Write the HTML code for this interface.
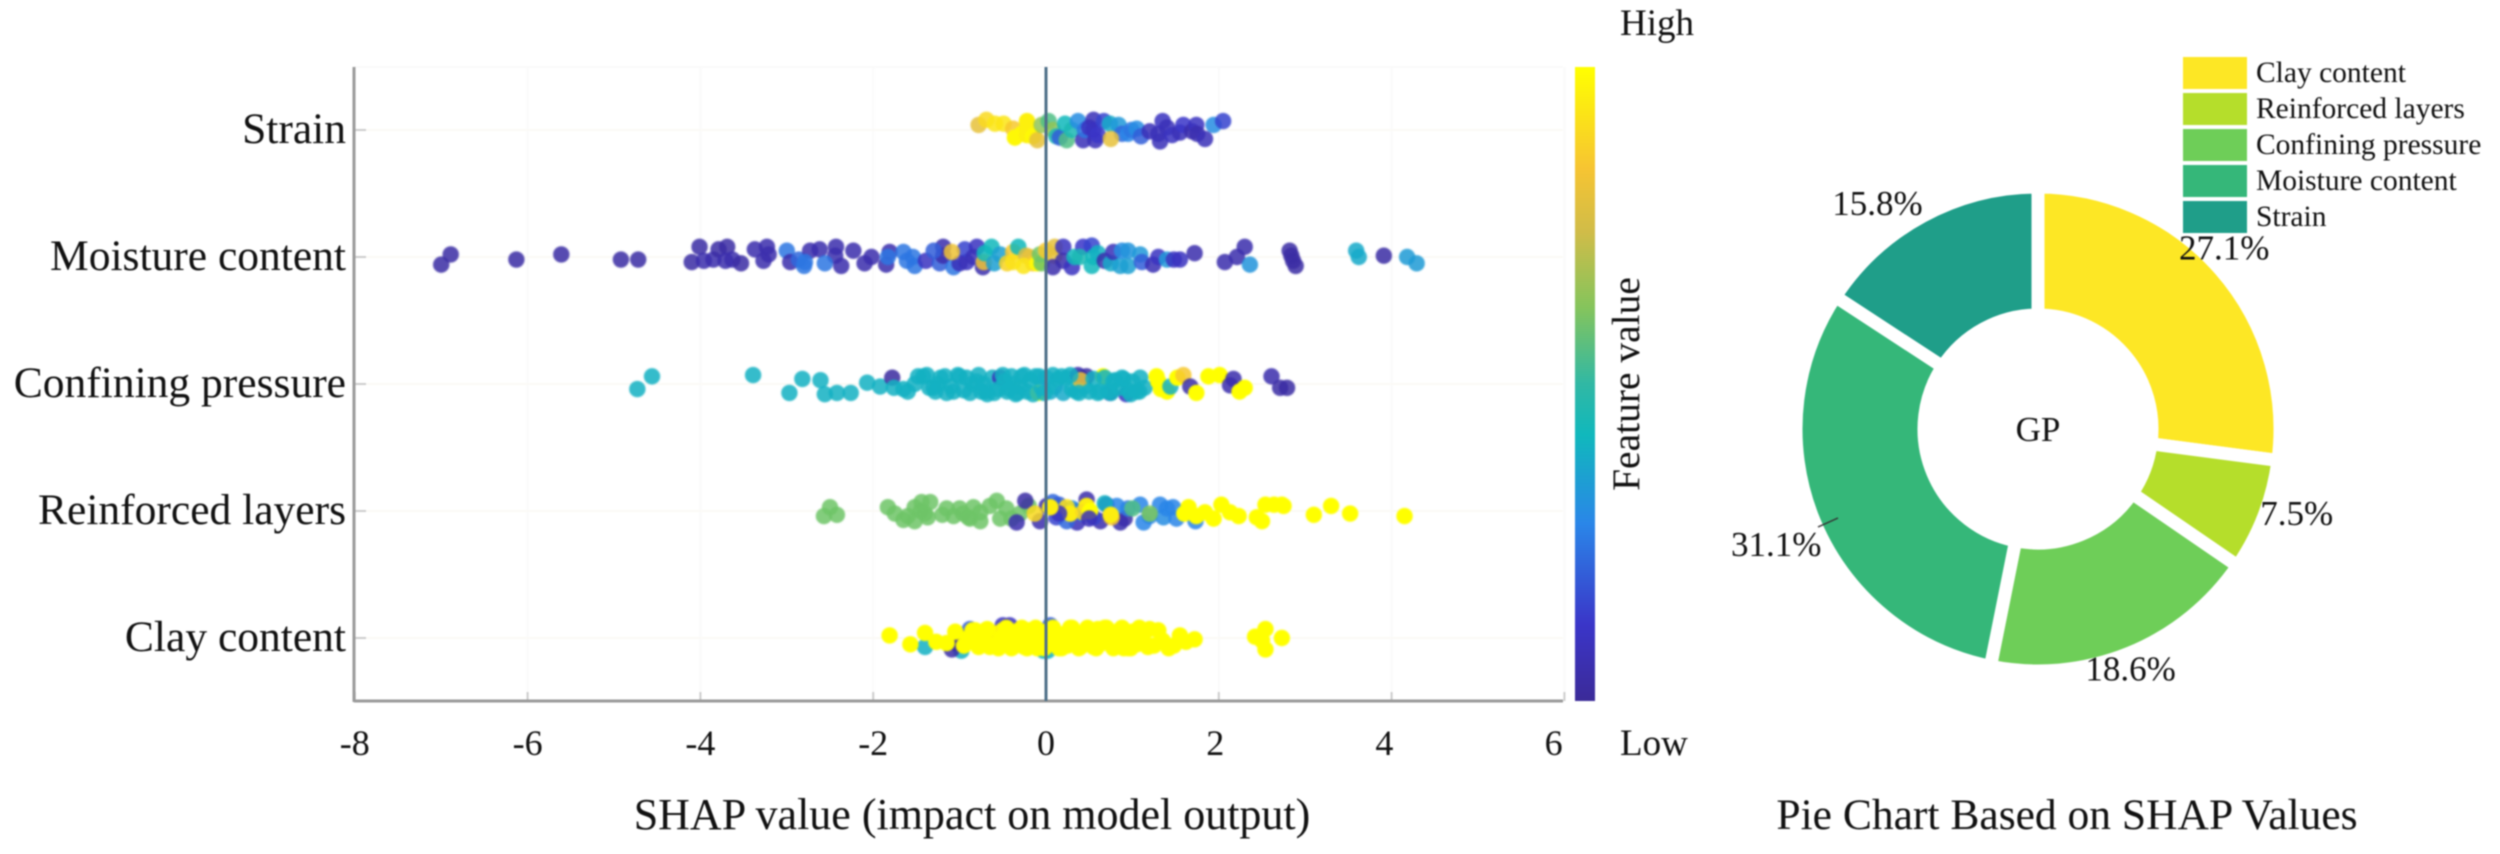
<!DOCTYPE html>
<html lang="en">
<head>
<meta charset="utf-8">
<title>SHAP summary and pie chart</title>
<style>
html,body{margin:0;padding:0;background:#fff;}
svg{display:block;}
text{font-family:"Liberation Serif",serif;fill:#111;}
#blur-layer{filter:blur(0.7px);}
#dots{filter:blur(0.9px);}
</style>
</head>
<body>
<svg id="chart" xmlns="http://www.w3.org/2000/svg" width="2500" height="854" viewBox="0 0 2500 854">
<defs>
<linearGradient id="cbar" x1="0" y1="1" x2="0" y2="0">
<stop offset="0" stop-color="#3b2a98"/>
<stop offset="0.12" stop-color="#3a35c8"/>
<stop offset="0.28" stop-color="#2a86e8"/>
<stop offset="0.42" stop-color="#10b8bc"/>
<stop offset="0.5" stop-color="#30b8a4"/>
<stop offset="0.62" stop-color="#84c45c"/>
<stop offset="0.74" stop-color="#d0bc48"/>
<stop offset="0.84" stop-color="#f6c432"/>
<stop offset="1" stop-color="#ffff00"/>
</linearGradient>
</defs>
<g id="blur-layer">
<g id="grid"></g>
<g id="dots"></g>
<g id="axes"></g>
<rect x="1575" y="67" width="20" height="634" fill="url(#cbar)"/>
<text x="1620" y="35" font-size="37">High</text>
<text x="1620" y="755" font-size="37">Low</text>
<text x="0" y="0" font-size="39.5" text-anchor="middle" transform="translate(1639,384) rotate(-90)">Feature value</text>
<text x="972" y="829" font-size="44" text-anchor="middle">SHAP value (impact on model output)</text>
<g id="pie"></g>
<text x="2038" y="441" font-size="35" text-anchor="middle">GP</text>
<line x1="1818" y1="527" x2="1838" y2="518" stroke="#333" stroke-width="1.5"/>
<g id="legend"></g>
<text x="2067" y="829" font-size="43.5" text-anchor="middle">Pie Chart Based on SHAP Values</text>
</g>
</svg>
<script>
const categories = ["Strain","Moisture content","Confining pressure","Reinforced layers","Clay content"];
const xTicks = [-8,-6,-4,-2,0,2,4,6];

const strainShap = [-.78,-.69,-.59,-.49,-.38,-.36,-.28,-.22,-.22,-.22,-.15,-.10,-.05,.03,.08,.12,.16,.24,.22,.30,.37,.43,.45,.5,.55,.55,.57,.6,.67,.74,.84,.88,.95,.99,1.05,1.1,1.20,1.30,1.32,1.35,1.4,1.46,1.55,1.59,1.69,1.74,1.75,1.84,1.94,2.05,.75];
const strainJitter = [-4,-8,-5,-5,-1,6,3,-7,-1,4,5,8,-4,-7,0,5,6,8,-5,0,-7,8,0,-2,-8,0,8,4,-7,-5,-4,3,3,0,-1,5,1,3,9,-7,-2,4,2,-4,1,-4,3,7,-4,-7,7];
const strainFeature = [.8,.9,.93,.93,.85,.98,.98,.96,.96,.96,.98,.8,.65,.55,.65,.45,.2,.55,.42,.45,.3,.08,.25,.1,.08,.1,.08,.12,.15,.38,.33,.22,.28,.25,.3,.2,.08,.08,.08,.1,.08,.1,.08,.12,.05,.1,.06,.08,.3,.15,.8];

const moistureShap = [-6.89,-7.0,-6.13,-5.61,-4.92,-4.72,-4.10,-4.01,-3.96,-3.85,-3.79,-3.69,-3.71,-3.63,-3.53,-3.37,-3.23,-3.21,-3.27,-3.0,-2.96,-2.86,-2.80,-2.73,-2.79,-2.62,-2.43,-2.44,-2.37,-2.23,-2.56,-2.10,-2.02,-1.85,-1.81,-1.83,-1.65,-1.61,-1.52,-1.54,-1.39,-1.23,-1.19,-1.19,-1.07,-.92,-.94,-.80,-.84,-.73,-1.3,-1.0,-1.09,-.72,-.71,-.63,-.6,-.53,-.45,-.38,-.38,-.32,-.23,-.19,-.15,-.26,-.1,-.07,-.05,0,.10,.10,.08,.2,.2,.3,.33,.43,.39,.53,.53,.55,.6,.68,.75,.78,.86,.88,.95,.95,1.09,1.11,1.24,1.3,1.40,1.48,1.72,1.55,2.07,2.21,2.30,2.36,2.82,2.84,2.86,2.89,3.59,3.62,3.91,4.18,4.29];
const moistureJitter = [-2,6,2,-2,2,2,4,-8,3,2,-6,-8,3,2,5,-6,-8,-2,3,-5,4,2,7,-5,4,-6,-8,-1,7,-5,5,5,0,6,-4,0,-4,3,7,0,3,5,-8,-1,8,4,-6,-8,0,8,-5,5,-4,4,-3,-8,5,-2,5,-4,4,-8,-1,0,5,7,5,-2,5,-5,-8,-1,8,-8,3,8,0,-8,0,7,-9,0,-3,3,5,-4,7,-5,7,-5,-2,4,6,0,2,2,-3,2,4,0,-8,6,-5,-1,3,7,-5,0,-1,0,5];
const moistureFeature = [.03,.03,.03,.03,.03,.03,.03,.03,.05,.05,.03,.03,.05,.05,.03,.05,.05,.05,.05,.25,.05,.22,.25,.05,.25,.05,.05,.05,.05,.05,.25,.05,.05,.05,.05,.25,.25,.25,.25,.25,.1,.2,.05,.05,.25,.1,.15,.1,.08,.05,.2,.08,.82,.82,.42,.42,.35,.35,.88,.85,.92,.42,.75,.8,.85,.93,.98,.6,.6,.85,.8,.8,.05,.1,.05,.1,.42,.12,.45,.42,.15,.42,.4,.05,.38,.08,.35,.3,.35,.32,.33,.2,.07,.1,.33,.1,.05,.1,.05,.05,.05,.32,.03,.03,.03,.03,.38,.38,.03,.34,.34];

const confiningShap = [-4.56,-4.73,-3.39,-2.82,-2.97,-2.61,-2.56,-2.42,-2.26,-2.07,-1.92,-1.78,-1.76,-1.65,-1.52,-1.42,-1.35,-1.30,-1.22,-1.17,-1.10,-1.07,-1.0,-.92,-.85,-.80,-.75,-.68,-.62,-.53,-.55,-.48,-.45,-.40,-.35,-.30,-.28,-.22,-.18,-.12,-.09,-.05,0,.05,.1,.14,.2,.24,.3,.35,.4,.45,.37,.47,.4,.66,.74,.93,.55,.6,.68,.72,.8,.85,.9,.95,1.0,1.05,1.09,1.14,1.28,1.33,1.4,1.3,1.44,1.52,1.59,1.67,1.74,1.88,2.01,2.17,2.13,2.30,2.24,2.61,2.71,2.79,.5,.78,-1.6,-1.48,-1.38,-1.28,-1.15,-1.02,-.95,-.88,-.78,-.7,-.6,-.5,-.42,-.33,-.25,-.15,-.08,-.02,.08,.18,.28,.38,.62,.75,.88,.98,1.08,-1.25,-.72,-.38];
const confiningJitter = [-6,4,-7,-4,7,-3,8,7,7,-1,2,-5,3,4,0,-6,3,3,-5,-6,2,6,-6,-5,0,-2,6,8,-5,-5,4,-2,6,-6,8,2,-6,6,-3,-6,7,3,-5,6,2,-4,7,-5,4,6,-5,2,-7,-6,-3,-6,7,8,-4,7,-5,6,-3,3,-4,5,-2,6,-5,3,-6,4,6,-2,2,-5,-7,2,7,-6,-7,-4,1,3,6,-6,3,3,6,-2,6,-6,-7,6,7,-7,5,7,-7,6,7,-7,4,7,-7,8,-6,7,-7,-6,-7,7,6,7,-5,8,6,0,0,0];
const confiningFeature = [.4,.4,.4,.4,.4,.4,.4,.4,.4,.4,.4,.02,.4,.4,.4,.4,.4,.4,.4,.4,.4,.4,.4,.4,.4,.4,.4,.4,.4,.08,.4,.4,.4,.4,.4,.4,.4,.4,.4,.4,1,.4,.36,.38,.4,.4,.38,.4,.4,.4,.4,.4,.05,.03,.8,1,.08,.1,.4,.4,.4,.4,.4,.4,.4,.4,.4,.4,.4,.4,1,1,1,1,.4,1,.85,.04,1,1,1,.05,.05,1,1,.05,.03,.03,.4,.4,.4,.4,.4,.4,.4,.4,.4,.4,.4,.4,.4,.4,.4,.4,.4,.4,.4,.4,.4,.4,.4,.4,.4,.4,.4,.4,.4,.4,.4,.4];

const reinforcedShap = [-2.57,-2.50,-2.42,-1.83,-1.75,-1.65,-1.52,-1.52,-1.44,-1.40,-1.34,-1.37,-1.15,-1.07,-.96,-.84,-.88,-.76,-.76,-.57,-.53,-.46,-.30,-1.6,-1.45,-1.2,-1.0,-.9,-.65,-.4,-.2,-.24,-.34,-.07,.01,.12,.36,.47,.63,.91,.86,.35,.7,.95,.08,.24,.55,.82,1.09,1.13,1.2,1.32,1.36,1.4,1.47,1.51,1.73,.3,.15,.42,.68,-.13,.24,.28,.47,.43,.51,.76,1.2,1.0,.15,.5,.05,.75,1.6,1.65,1.74,1.84,1.94,2.03,2.13,2.23,2.44,2.50,2.54,2.64,2.73,2.75,3.1,3.3,3.52,4.15];
const reinforcedJitter = [4,-3,3,-3,2,7,8,-3,-7,2,-7,5,-2,4,2,-3,6,8,1,-8,6,-2,2,4,0,3,-2,5,-4,6,-4,-8,9,8,-4,5,9,-9,8,6,9,0,-5,-2,-7,8,5,-4,-5,9,4,-5,5,-2,-3,6,8,-2,-5,2,-6,2,-3,2,-4,1,0,5,2,-2,2,6,-3,3,2,-3,4,1,6,-5,1,4,5,8,-5,-5,-5,-4,3,-4,2,4];
const reinforcedFeature = [.6,.6,.6,.6,.6,.6,.6,.6,.6,.6,.6,.6,.6,.6,.6,.6,.6,.6,.6,.6,.6,.6,.6,.6,.6,.6,.6,.6,.6,.6,.6,.03,.05,.05,.05,.15,.08,.05,.05,.03,.05,.05,.12,.25,.22,.22,.15,.28,.28,.28,.28,.28,.3,.28,.28,.28,.28,.3,.2,.25,.4,.9,.92,.95,.95,.9,1,.84,.62,.55,.1,.08,.95,.95,1,1,1,1,1,1,1,1,1,1,1,1,1,1,1,1,1,1];

const clayShap = [-1.40,-.98,-.5,-.42,-.03,.05,.02,-1.02,-1.05,-1.09,-.88,-1.81,-1.57,-1.40,-1.27,-1.15,-1.05,-.82,-.76,-.7,-.65,-.6,-.55,-.5,-.45,-.4,-.35,-.3,-.25,-.2,-.15,-.1,-.05,0,.05,.1,.15,.2,.25,.3,.35,.4,.45,.5,.55,.6,.65,.7,.75,.8,.85,.9,.95,1.0,1.05,1.12,1.2,1.25,1.35,1.42,1.55,1.62,1.72,2.42,2.54,2.50,2.54,2.73,-.72,-.62,-.48,-.32,-.18,-.08,.12,.28,-.95,-.85,-.78,-.68,-.58,-.46,-.38,-.28,-.22,-.12,-.02,.08,.18,.28,.38,.48,.58,.68,.78,.88,.98,1.08,1.18,1.3,1.48,-.9,-.72,-.52,-.33,-.16,.03,.22,.42,.62,.82,1.02,.7,.9,.5,.3];
const clayJitter = [7,10,-10,-10,10,-10,10,-2,4,9,-7,-2,5,-4,3,4,-5,-6,3,-6,7,-1,8,-6,3,8,-5,1,7,-6,2,8,-5,4,-6,1,8,-3,6,-6,3,7,-4,2,7,-7,4,-7,1,7,-6,3,8,-5,5,0,-7,6,2,8,-2,3,1,-1,-7,2,9,0,2,-4,5,-2,6,-4,3,-5,6,-6,7,-7,6,-8,7,-8,8,-8,8,-8,8,-8,8,-8,8,-8,8,-8,8,-8,7,-6,6,0,0,0,0,0,0,0,0,0,0,0,-8,8,0,-8];
const clayFeature = [.4,.4,.1,.1,.4,.2,.4,.04,.04,.04,.2,1,1,1,1,1,1,1,1,1,1,1,1,1,1,1,1,1,1,1,1,1,1,1,1,1,1,1,1,1,1,1,1,1,1,1,1,1,1,1,1,1,1,1,1,1,1,1,1,1,1,1,1,1,1,1,1,1,1,.97,1,.95,1,1,1,1,1,1,1,1,1,1,1,1,1,1,1,1,1,1,1,1,1,1,1,1,1,1,1,1,1,1,1,1,1,1,1,1,1,1,1,1,1,1,1,1];

const pieLabels = ["Clay content","Reinforced layers","Confining pressure","Moisture content","Strain"];
const pieValues = [27.1,7.5,18.6,31.1,15.8];

const NS = "http://www.w3.org/2000/svg";
const plotLeft = 354, plotRight = 1563, plotTop = 67, plotBottom = 701;
function xScale(v){ return 1046 + v * 86.4; }
function rowY(i){ return 130 + 127 * i; }
function jitterY(j){ return j * 1.27; }
const colorStops = [[0,[59,42,152]],[.12,[58,53,200]],[.28,[42,134,232]],[.42,[16,184,188]],[.5,[48,184,164]],[.62,[124,200,92]],[.74,[208,188,72]],[.84,[246,196,50]],[1,[255,255,0]]];
function featureColor(f){
  for(let k=1;k<colorStops.length;k++){
    if(f<=colorStops[k][0]){
      const a=colorStops[k-1],b=colorStops[k],t=(f-a[0])/(b[0]-a[0]);
      return "rgb("+a[1].map((c,n)=>Math.round(c+(b[1][n]-c)*t)).join(",")+")";
    }
  }
  return "rgb(255,255,0)";
}
function mk(parent,tag,attrs,txt){
  const el=document.createElementNS(NS,tag);
  for(const k in attrs){ el.setAttribute(k,attrs[k]); }
  if(txt!==undefined){ el.textContent=txt; }
  parent.appendChild(el);
  return el;
}
const grid=document.getElementById("grid"), axes=document.getElementById("axes"), dots=document.getElementById("dots");

xTicks.forEach(function(t){
  const gl=mk(grid,"line",{x1:xScale(t),x2:xScale(t),y1:plotTop,y2:plotBottom,stroke:"#fafafa","stroke-width":2});
  
  
  const tk=mk(axes,"line",{x1:xScale(t),x2:xScale(t),y1:plotBottom-9,y2:plotBottom,stroke:"#ccc","stroke-width":2});
  
  
  const labelX=xScale(t)-(t>0?t*1.8:0);
  const lb=mk(axes,"text",{x:labelX,y:755,"font-size":36,"text-anchor":"middle"},String(t));
  
  
});
categories.forEach(function(c,i){
  const gl=mk(grid,"line",{x1:plotLeft,x2:plotRight,y1:rowY(i),y2:rowY(i),stroke:"#fbfaf6","stroke-width":2});
  
  
  const tk=mk(axes,"line",{x1:plotLeft,x2:plotLeft+12,y1:rowY(i),y2:rowY(i),stroke:"#ccc","stroke-width":2});
  
  
  const lb=mk(axes,"text",{x:346,y:rowY(i)+13,"font-size":43.5,"text-anchor":"end"},c);
  
  
});
const topBorder=mk(grid,"line",{x1:plotLeft,x2:plotRight,y1:plotTop,y2:plotTop,stroke:"#fafafa","stroke-width":2});


const yAxis=mk(axes,"line",{x1:plotLeft,x2:plotLeft,y1:plotTop,y2:plotBottom+1,stroke:"#9a9a9a","stroke-width":3});


const xAxis=mk(axes,"line",{x1:plotLeft,x2:plotRight,y1:plotBottom,y2:plotBottom,stroke:"#9a9a9a","stroke-width":3});


const zeroLine=mk(axes,"line",{x1:xScale(0),x2:xScale(0),y1:plotTop,y2:plotBottom,stroke:"#4f7088","stroke-width":3});



const rows=[[strainShap,strainJitter,strainFeature],[moistureShap,moistureJitter,moistureFeature],[confiningShap,confiningJitter,confiningFeature],[reinforcedShap,reinforcedJitter,reinforcedFeature],[clayShap,clayJitter,clayFeature]];
rows.forEach(function(r,i){
  r[0].forEach(function(v,n){
    const p=mk(dots,"circle",{cx:xScale(v),cy:rowY(i)+jitterY(r[1][n]),r:8.2,fill:featureColor(r[2][n]),"fill-opacity":r[2][n]>=.95?1:.86});
    
    
  });
});

/* donut */
const pieColors=["#fde725","#b5de2b","#6ece58","#35b779","#1f9e89"];
const pieCx=2038, pieCy=429, pieOuter=242, pieInner=114;
const pieLabelRadius=[260,272,257,286,277];
const pieLabelShift=[-3,-3,1,-1,-7];
const pie=document.getElementById("pie"), legend=document.getElementById("legend");
const pieTotal=pieValues.reduce(function(a,b){return a+b;},0);
function polar(r,deg){ const a=deg*Math.PI/180; return [pieCx+r*Math.sin(a),pieCy-r*Math.cos(a)]; }
let cum=0;
pieValues.forEach(function(v,i){
  const a0=cum/pieTotal*360, a1=(cum+v)/pieTotal*360, big=(a1-a0)>180?1:0;
  const p0=polar(pieOuter,a0),p1=polar(pieOuter,a1),p2=polar(pieInner,a1),p3=polar(pieInner,a0);
  const d="M"+p0+"A"+pieOuter+" "+pieOuter+" 0 "+big+" 1 "+p1+"L"+p2+"A"+pieInner+" "+pieInner+" 0 "+big+" 0 "+p3+"Z";
  const s=mk(pie,"path",{d:d,fill:pieColors[i],stroke:"#fff","stroke-width":13});
  
  
  cum+=v;
});
cum=0;
pieValues.forEach(function(v,i){
  const a0=cum/pieTotal*360, a1=(cum+v)/pieTotal*360;
  const mid=(a0+a1)/2+pieLabelShift[i], q=polar(pieLabelRadius[i],mid);
  const t=mk(pie,"text",{x:q[0],y:q[1]+12,"font-size":35,"text-anchor":"middle"},v.toFixed(1)+"%");
  
  
  cum+=v;
});
pieLabels.forEach(function(l,i){
  const y=73+36*i;
  const sw=mk(legend,"rect",{x:2183,y:y-16,width:64,height:32,fill:pieColors[i]});
  
  
  const t=mk(legend,"text",{x:2256,y:y+9,"font-size":29.5},l);
  
  
});
</script>
</body>
</html>
